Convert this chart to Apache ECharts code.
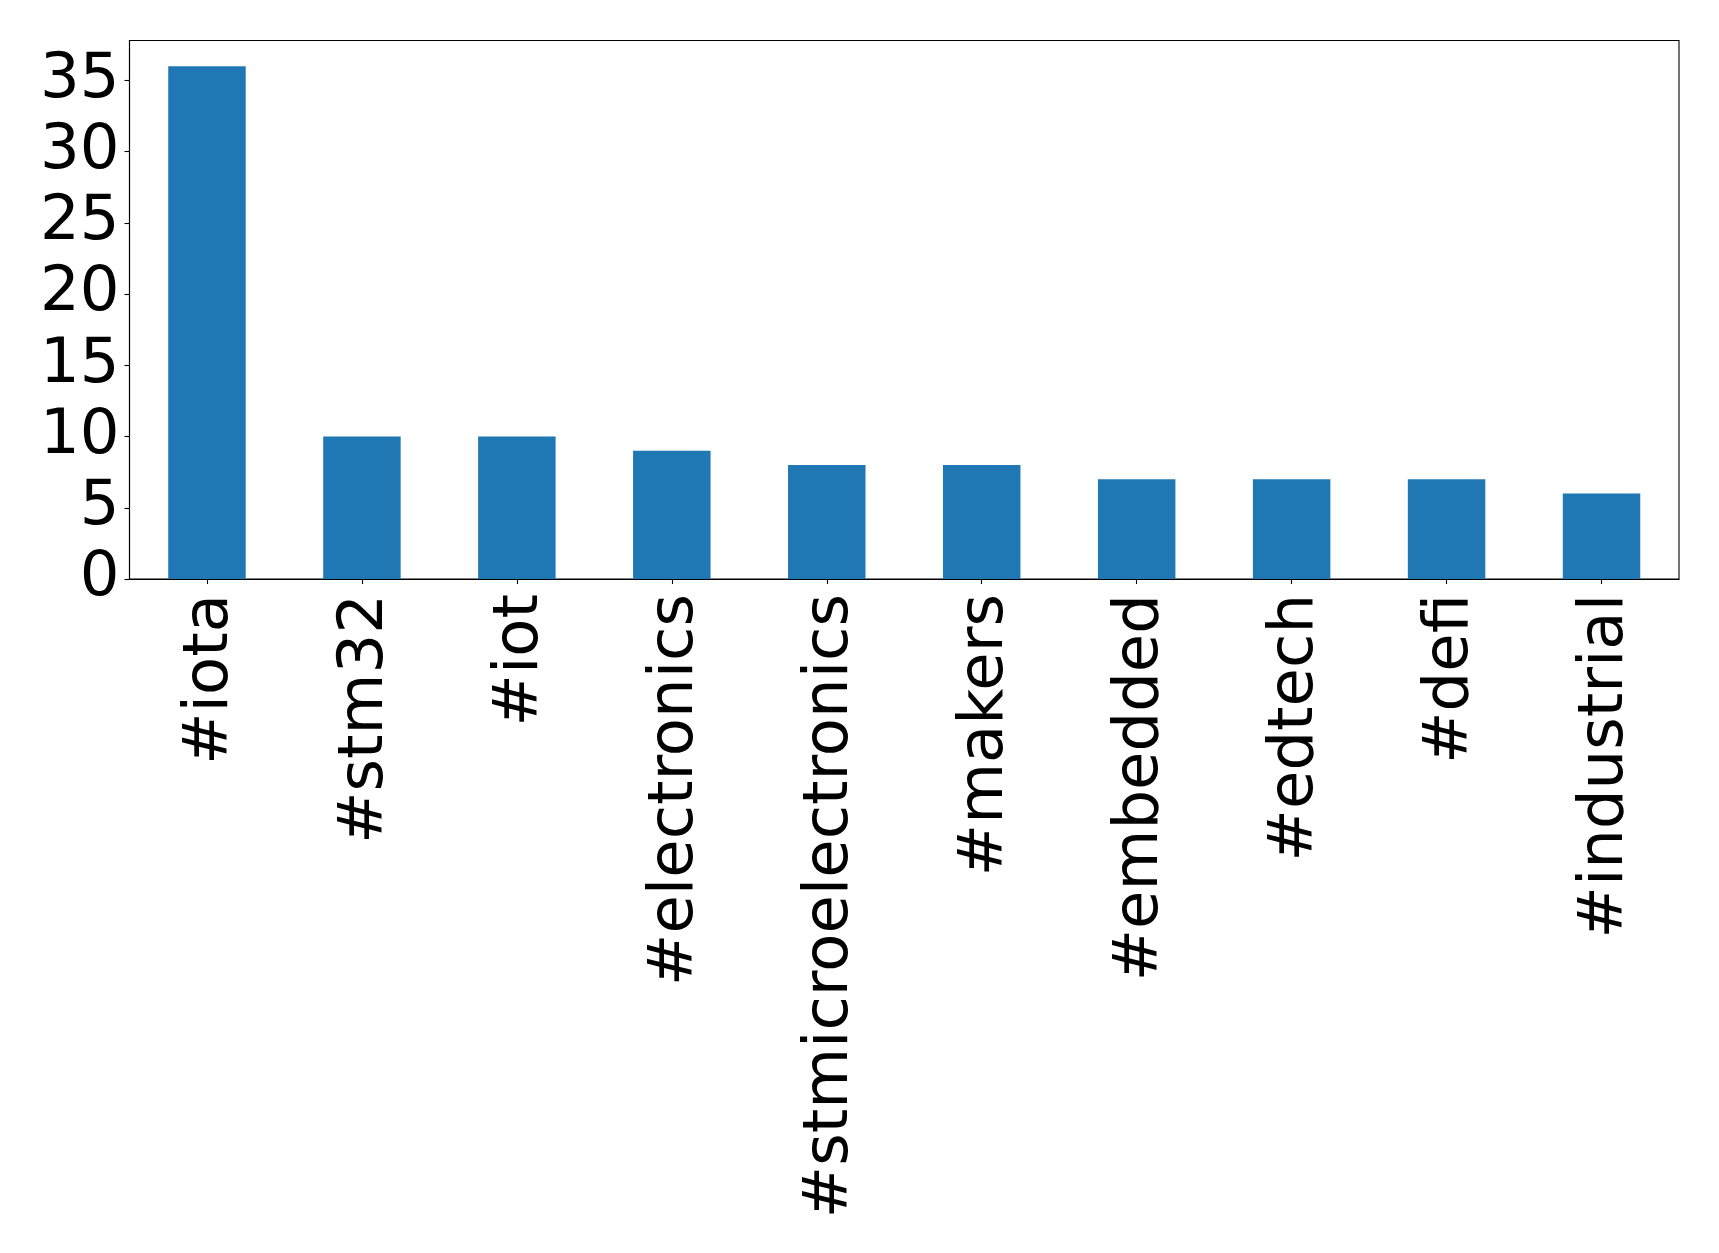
<!DOCTYPE html>
<html>
<head>
<meta charset="utf-8">
<script src="https://cdn.jsdelivr.net/npm/echarts@6/dist/echarts.min.js"></script>
<style>
html,body{margin:0;padding:0;background:#fff;}
#chart{width:1719px;height:1253px;}
</style>
</head>
<body>
<div id="chart"></div>
<script>
const categories = ['#iota','#stm32','#iot','#electronics','#stmicroelectronics','#makers','#embedded','#edtech','#defi','#industrial'];
const values = [36,10,10,9,8,8,7,7,7,6];
const yTicks = [0,5,10,15,20,25,30,35];

const chart = echarts.init(document.getElementById('chart'), null, {renderer:'canvas'});
const font = 'DejaVu Sans';
chart.setOption({
  animation:false,
  backgroundColor:'#fff',
  grid:{left:129.5,right:40,top:40.5,bottom:674,show:true,borderColor:'#000',borderWidth:1.1,containLabel:false},
  xAxis:{
    type:'category',
    data:categories,
    boundaryGap:true,
    axisLine:{show:true,lineStyle:{color:'#000',width:1.1}},
    axisTick:{show:true,alignWithLabel:true,length:5,lineStyle:{color:'#000',width:1.1}},
    axisLabel:{rotate:90,margin:15,fontSize:62.5,fontFamily:font,color:'#000',interval:0,verticalAlign:'top',lineHeight:8},
    splitLine:{show:false}
  },
  yAxis:{
    type:'value',
    min:0,max:37.8,interval:5,
    axisLine:{show:true,lineStyle:{color:'#000',width:1.1}},
    axisTick:{show:true,length:5,lineStyle:{color:'#000',width:1.1},customValues:yTicks},
    axisLabel:{margin:10,fontSize:62.5,fontFamily:font,color:'#000',customValues:yTicks},
    splitLine:{show:false}
  },
  series:[{
    type:'bar',
    data:values,
    barWidth:'50%',
    itemStyle:{color:'#1f77b4'}
  }]
});
</script>
</body>
</html>
